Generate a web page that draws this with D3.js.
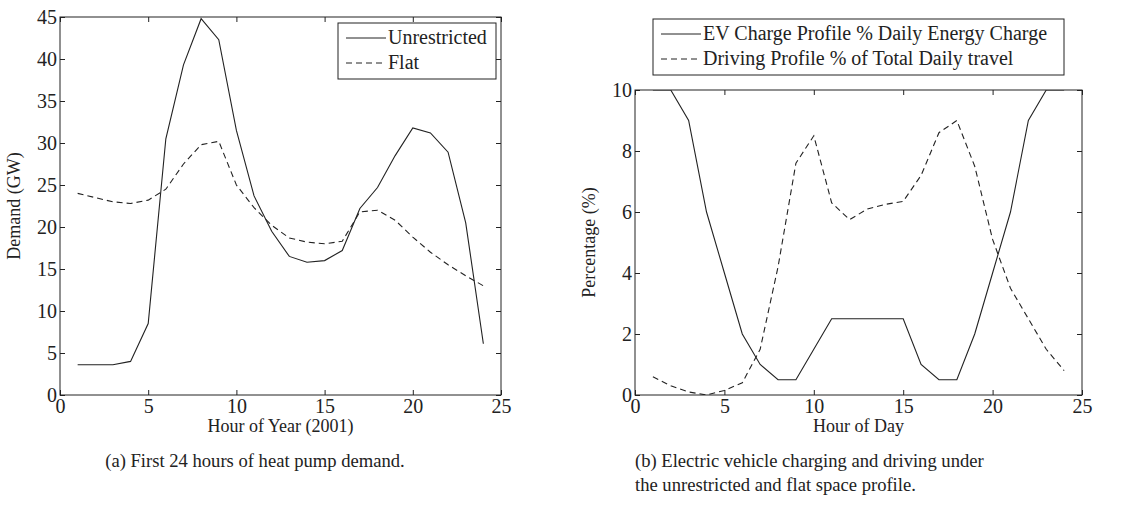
<!DOCTYPE html><html><head><meta charset="utf-8"><script src="https://cdn.jsdelivr.net/npm/d3@7"></script>
<style>body{margin:0;background:#fff}text{font-family:"Liberation Serif","Times New Roman",serif;fill:#222}</style></head><body>
<svg id="c" width="1134" height="530"></svg>
<script>
const hours=d3.range(1,25);
const unrestricted=[3.6,3.6,3.6,4,8.5,30.5,39.3,44.8,42.3,31.5,23.7,19.5,16.5,15.8,16,17.2,22.2,24.7,28.5,31.8,31.2,28.9,20.5,6.1];
const flat=[24,23.5,23,22.8,23.2,24.5,27.5,29.8,30.2,25,22.3,20.2,18.7,18.2,18,18.3,21.8,22,20.8,18.8,17,15.5,14.2,13];
const evCharge=[10,10,9,6,4,2,1,0.5,0.5,1.5,2.5,2.5,2.5,2.5,2.5,1,0.5,0.5,2,4,6,9,10,10];
const driving=[0.6,0.3,0.1,0,0.15,0.4,1.5,4.2,7.6,8.5,6.3,5.75,6.1,6.25,6.35,7.2,8.6,9.0,7.5,5.1,3.5,2.5,1.5,0.8];
const xTicks=[0,5,10,15,20,25];
const svg=d3.select("#c");
function panel(o){
  const g=svg.append("g");
  const x=d3.scaleLinear().domain([0,25]).range([o.x0,o.x1]);
  const y=d3.scaleLinear().domain([0,o.ymax]).range([395,o.y0]);
  const id="clip"+o.id;
  svg.append("clipPath").attr("id",id).append("rect").attr("x",o.x0).attr("y",o.y0).attr("width",o.x1-o.x0).attr("height",395-o.y0);
  const ax=(a,t)=>a.tickValues(t).tickSize(5).tickPadding(4);
  const st=s=>{s.select(".domain").remove();s.selectAll("line").attr("stroke","#222");s.selectAll("text").style("font-size","20px").style("font-family","Liberation Serif");};
  g.append("g").attr("transform",`translate(0,395)`).call(ax(d3.axisTop(x),xTicks).tickFormat(d3.format("d"))).call(st).selectAll("text").attr("y",18).attr("dy",0);
  g.append("g").attr("transform",`translate(0,${o.y0})`).call(ax(d3.axisBottom(x),xTicks).tickFormat("")).call(st);
  g.append("g").attr("transform",`translate(${o.x0},0)`).call(ax(d3.axisRight(y),o.yTicks).tickFormat(d3.format("d"))).call(st).selectAll("text").attr("x",-3).attr("text-anchor","end");
  g.append("g").attr("transform",`translate(${o.x1},0)`).call(ax(d3.axisLeft(y),o.yTicks).tickFormat("")).call(st);
  g.append("rect").attr("x",o.x0).attr("y",o.y0).attr("width",o.x1-o.x0).attr("height",395-o.y0).attr("fill","none").attr("stroke","#222");
  const line=d3.line().x((d,i)=>x(hours[i])).y(d=>y(d));
  o.series.forEach(s=>g.append("path").attr("d",line(s.v)).attr("fill","none").attr("stroke","#222").attr("stroke-width",1.1).attr("stroke-dasharray",s.dash?"6,4":null).attr("clip-path",`url(#${id})`));
  g.append("text").attr("x",(o.x0+o.x1)/2).attr("y",432).attr("text-anchor","middle").style("font-size","18px").text(o.xl);
  g.append("text").attr("transform",`translate(${o.x0-40},${(o.y0+395)/2}) rotate(-90)`).attr("text-anchor","middle").style("font-size","18px").text(o.yl);
  const L=o.leg;
  g.append("rect").attr("x",L.x).attr("y",L.y).attr("width",L.w).attr("height",56).attr("fill","#fff").attr("stroke","#222");
  o.series.forEach((s,i)=>{const yy=L.y+15+i*25;
    g.append("line").attr("x1",L.x+8).attr("x2",L.x+48).attr("y1",yy).attr("y2",yy).attr("stroke","#222").attr("stroke-dasharray",s.dash?"6,4":null);
    g.append("text").attr("x",L.x+50).attr("y",yy+6).style("font-size","20px").text(s.name);});
}
panel({id:1,x0:60,x1:501,y0:17,ymax:45,yTicks:d3.range(0,46,5),xl:"Hour of Year (2001)",yl:"Demand (GW)",
  series:[{v:unrestricted,name:"Unrestricted"},{v:flat,name:"Flat",dash:1}],leg:{x:338,y:23,w:158}});
panel({id:2,x0:635,x1:1082,y0:90,ymax:10,yTicks:[0,2,4,6,8,10],xl:"Hour of Day",yl:"Percentage (%)",
  series:[{v:evCharge,name:"EV Charge Profile % Daily Energy Charge"},{v:driving,name:"Driving Profile % of Total Daily travel",dash:1}],leg:{x:653,y:19,w:411}});
svg.append("text").attr("x",255).attr("y",467).attr("text-anchor","middle").style("font-size","18.6px").text("(a) First 24 hours of heat pump demand.");
svg.append("text").attr("x",635).attr("y",467).style("font-size","18.6px").text("(b) Electric vehicle charging and driving under");
svg.append("text").attr("x",635).attr("y",491).style("font-size","18.6px").text("the unrestricted and flat space profile.");
</script></body></html>
